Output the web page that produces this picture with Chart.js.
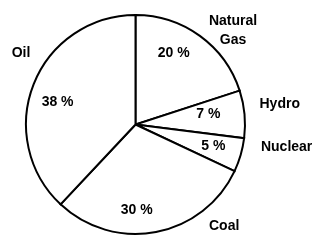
<!DOCTYPE html>
<html>
<head>
<meta charset="utf-8">
<script src="https://cdn.jsdelivr.net/npm/chart.js@4/dist/chart.umd.min.js"></script>
<style>
html,body{margin:0;padding:0;background:#fff;}
canvas{display:block;}
</style>
</head>
<body>
<canvas id="c" width="329" height="249"></canvas>
<script>
// Data
const categories = ["Natural Gas", "Hydro", "Nuclear", "Coal", "Oil"];
const shares = [20, 7, 5, 30, 38];
const valueLabels = ["20 %", "7 %", "5 %", "30 %", "38 %"];
const nameLabels = [["Natural", "Gas"], ["Hydro"], ["Nuclear"], ["Coal"], ["Oil"]];

// Label placement styles (radius fraction, angle shift in degrees from slice middle)
const innerRadiusFrac = [0.743, 0.672, 0.737, 0.78, 0.74];
const innerAngleShift = [-8, -2.7, -0.9, 10, -5.6];
const outerRadiusFrac = [1.238, 1.33, 1.395, 1.232, 1.234];
const outerAngleShift = [10, -2.6, -7.8, -30.3, 10.5];

const FONT = 'bold 14px "Liberation Sans", Arial, sans-serif';
const LINE_H = 19;

const labelPlugin = {
  id: 'pieLabels',
  afterDraw(chart) {
    const ctx = chart.ctx;
    const meta = chart.getDatasetMeta(0);
    ctx.save();
    ctx.font = FONT;
    ctx.fillStyle = '#000';
    ctx.textAlign = 'center';
    ctx.textBaseline = 'middle';
    meta.data.forEach((arc, i) => {
      const p = arc.getProps(['x', 'y', 'startAngle', 'endAngle', 'outerRadius'], true);
      const mid = (p.startAngle + p.endAngle) / 2;
      // inner value label
      let a = mid + innerAngleShift[i] * Math.PI / 180;
      let r = p.outerRadius * innerRadiusFrac[i];
      ctx.fillText(valueLabels[i], p.x + Math.cos(a) * r, p.y + Math.sin(a) * r);
      // outer category label
      a = mid + outerAngleShift[i] * Math.PI / 180;
      r = p.outerRadius * outerRadiusFrac[i];
      const cx = p.x + Math.cos(a) * r;
      const cy = p.y + Math.sin(a) * r;
      const lines = nameLabels[i];
      const top = cy - (lines.length - 1) * LINE_H / 2;
      lines.forEach((t, k) => ctx.fillText(t, cx, top + k * LINE_H));
    });
    ctx.restore();
  }
};

new Chart(document.getElementById('c'), {
  type: 'pie',
  data: {
    labels: categories,
    datasets: [{
      data: shares,
      backgroundColor: '#ffffff',
      borderColor: '#000000',
      borderWidth: 2,
      borderJoinStyle: 'miter'
    }]
  },
  options: {
    responsive: false,
    animation: false,
    layout: { padding: { top: 14, bottom: 14, left: 25, right: 83 } },
    plugins: {
      legend: { display: false },
      tooltip: { enabled: false }
    }
  },
  plugins: [labelPlugin]
});
</script>
</body>
</html>
